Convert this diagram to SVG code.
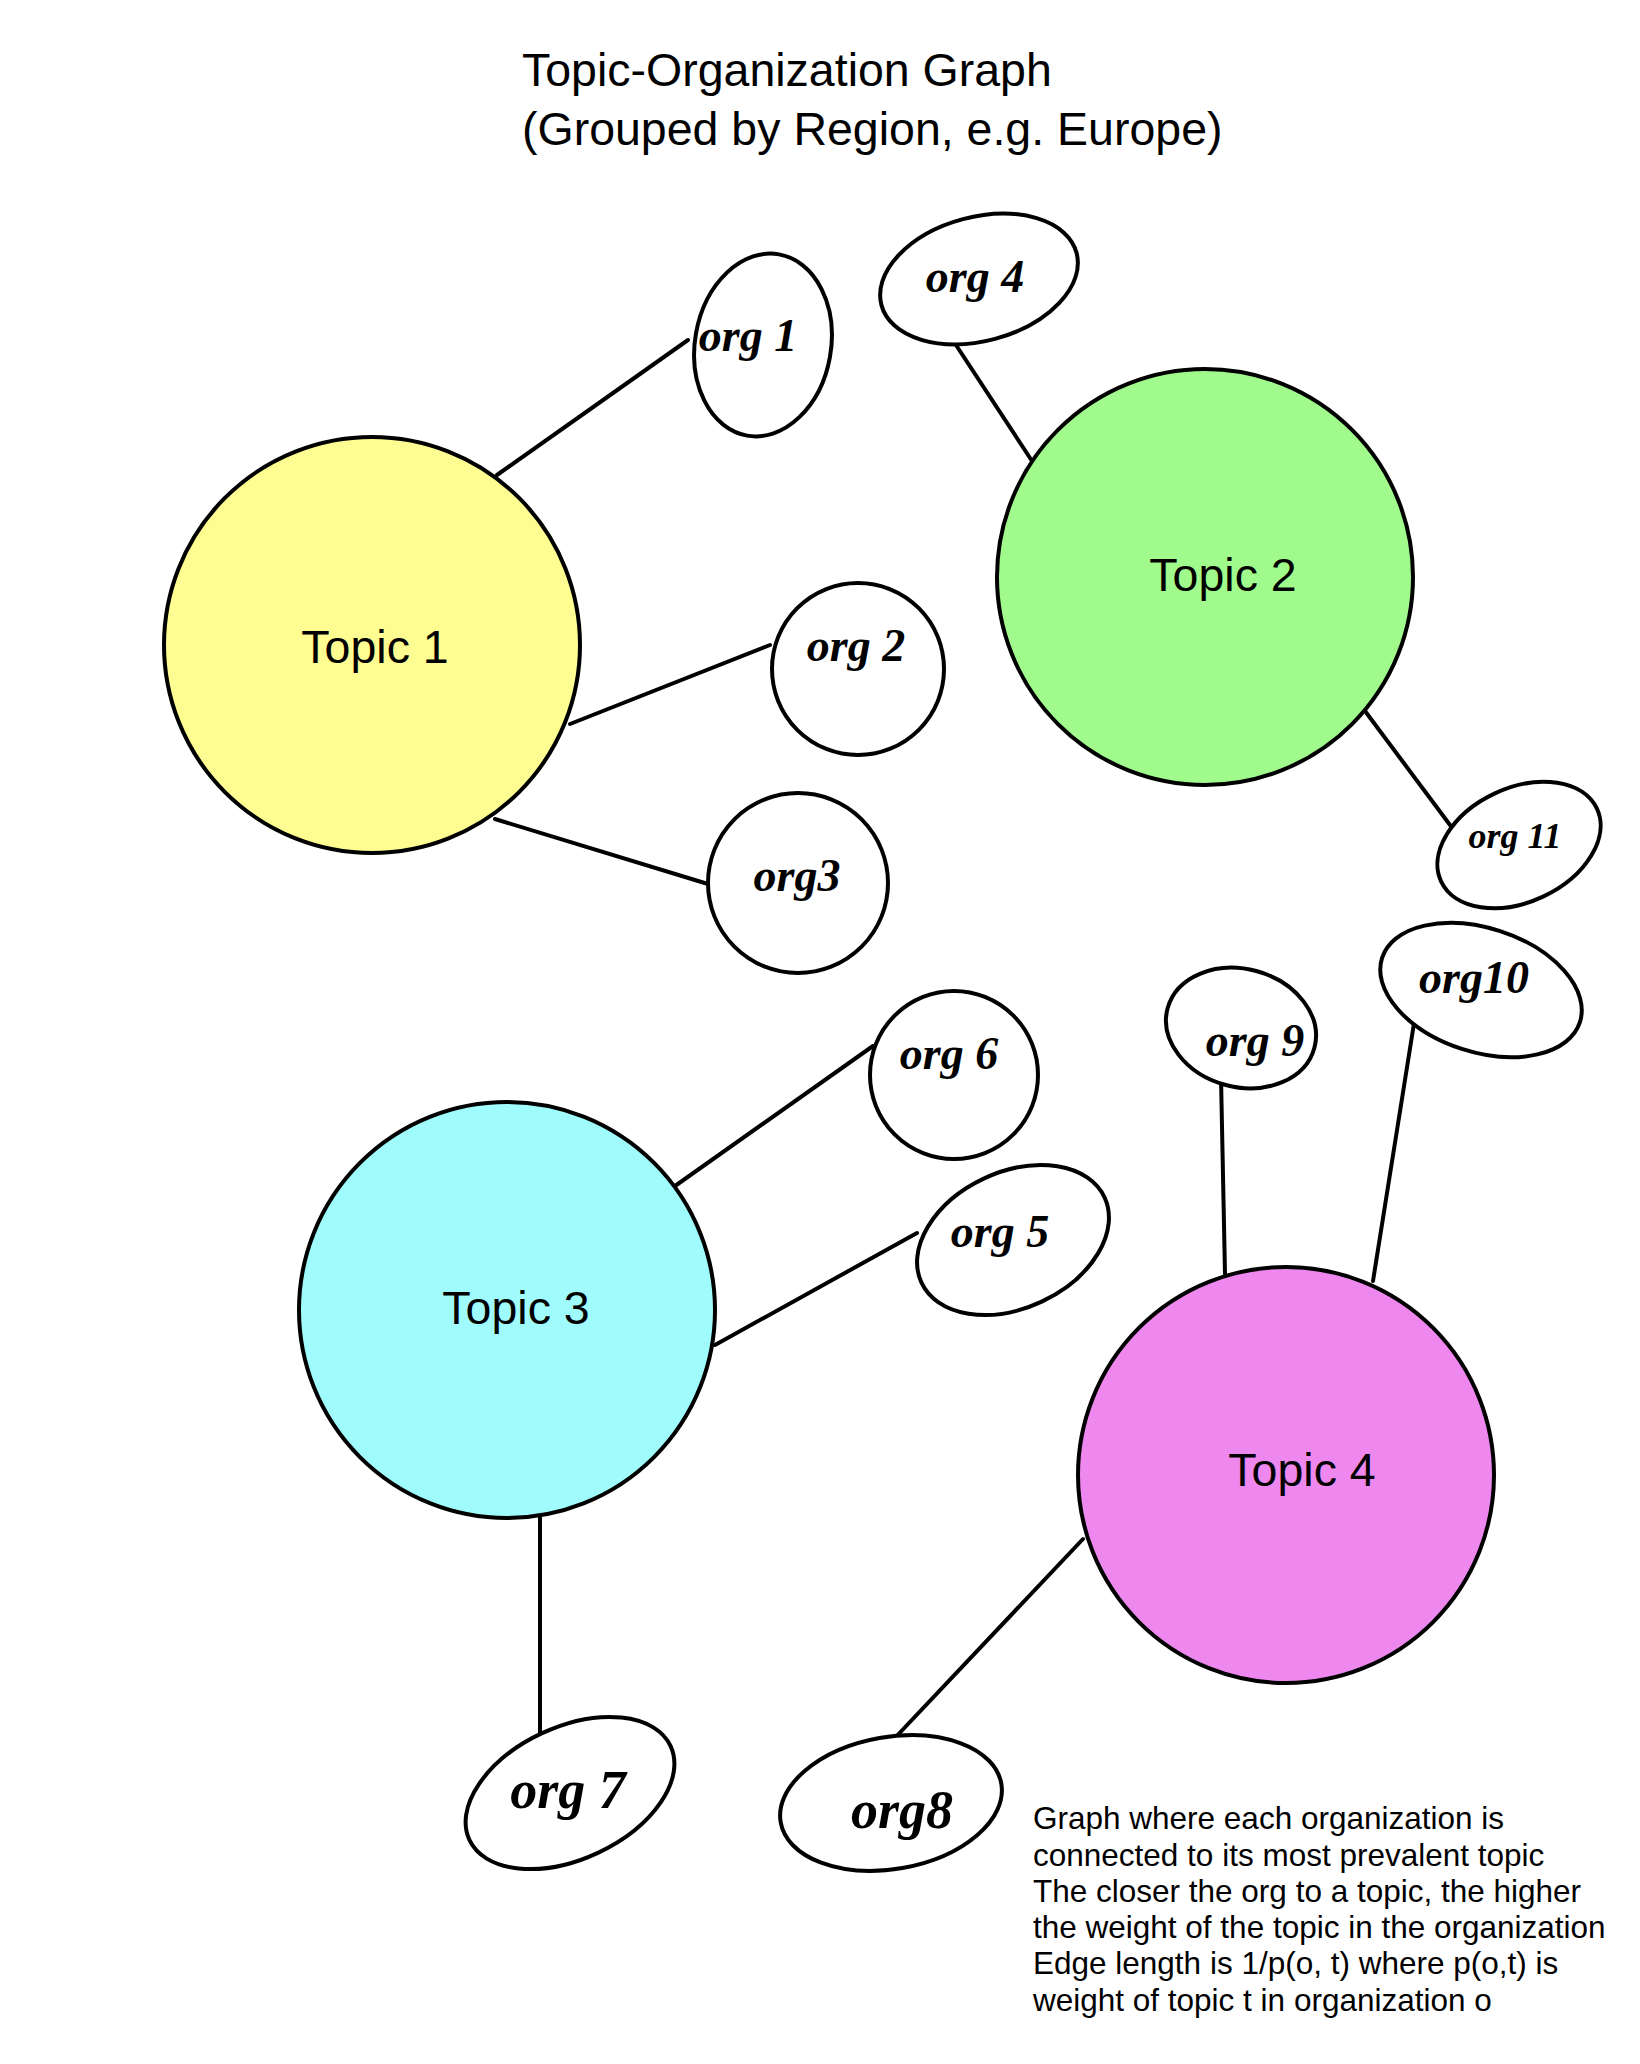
<svg xmlns="http://www.w3.org/2000/svg" width="1640" height="2064" viewBox="0 0 1640 2064">
<style>
.title{font-family:"Liberation Sans",Arial,sans-serif;font-size:46.5px;fill:#000}
.note{font-family:"Liberation Sans",Arial,sans-serif;font-size:31.5px;fill:#000}
.topic{stroke:#000;stroke-width:4}
.tlabel{font-family:"Liberation Sans",Arial,sans-serif;font-size:46.5px;fill:#000;text-anchor:middle;dominant-baseline:central}
.org{fill:#fff;stroke:#000;stroke-width:4}
.olabel{font-family:"Liberation Serif","DejaVu Serif",serif;font-style:italic;font-weight:bold;font-size:46px;fill:#000;text-anchor:middle;dominant-baseline:central}
.edge{stroke:#000;stroke-width:4;fill:none;stroke-linecap:round}
</style>
<rect width="1640" height="2064" fill="#fff"/>
<g id="title">
<text class="title" x="522" y="86">Topic-Organization Graph</text>
<text class="title" x="522" y="145">(Grouped by Region, e.g. Europe)</text>
</g>
<g id="connectors">
<line class="edge" x1="497" y1="475" x2="688" y2="340"/>
<line class="edge" x1="570" y1="724" x2="770" y2="645"/>
<line class="edge" x1="495" y1="819" x2="708" y2="884"/>
<line class="edge" x1="1032" y1="461" x2="937" y2="316"/>
<line class="edge" x1="1365" y1="711" x2="1450" y2="825"/>
<line class="edge" x1="1225" y1="1274" x2="1221" y2="1077"/>
<line class="edge" x1="1373" y1="1281" x2="1415" y2="1017"/>
<line class="edge" x1="1083" y1="1539" x2="892" y2="1741"/>
<line class="edge" x1="675" y1="1186" x2="873" y2="1046"/>
<line class="edge" x1="715" y1="1345" x2="917" y2="1233"/>
<line class="edge" x1="540" y1="1513" x2="540" y2="1737"/>
</g>
<g id="topic1">
<circle class="topic" cx="372" cy="645" r="208" fill="#FEFD91"/>
<text class="tlabel" x="375" y="647">Topic 1</text>
</g>
<g id="topic2">
<circle class="topic" cx="1205" cy="577" r="208" fill="#A0FA8C"/>
<text class="tlabel" x="1223" y="575">Topic 2</text>
</g>
<g id="topic3">
<circle class="topic" cx="507" cy="1310" r="208" fill="#A0FCFC"/>
<text class="tlabel" x="516" y="1308">Topic 3</text>
</g>
<g id="topic4">
<circle class="topic" cx="1286" cy="1475" r="208" fill="#EE88EE"/>
<text class="tlabel" x="1302" y="1470">Topic 4</text>
</g>
<g id="org1">
<ellipse class="org" cx="0" cy="0" rx="68" ry="92" transform="translate(763 345) rotate(10)"/>
<text class="olabel" x="748" y="335">org 1</text>
</g>
<g id="org4">
<ellipse class="org" cx="0" cy="0" rx="101" ry="62" transform="translate(979 279) rotate(-15)"/>
<text class="olabel" x="975" y="276">org 4</text>
</g>
<g id="org2">
<circle class="org" cx="858" cy="669" r="86"/>
<text class="olabel" x="856" y="645">org 2</text>
</g>
<g id="org3">
<circle class="org" cx="798" cy="883" r="90"/>
<text class="olabel" x="797" y="875">org3</text>
</g>
<g id="org11">
<ellipse class="org" cx="0" cy="0" rx="86" ry="57" transform="translate(1519 845) rotate(-25)"/>
<text class="olabel" x="1515" y="836" style="font-size:36px">org 11</text>
</g>
<g id="org10">
<ellipse class="org" cx="0" cy="0" rx="104" ry="62" transform="translate(1481 990) rotate(18)"/>
<text class="olabel" x="1474" y="977">org10</text>
</g>
<g id="org9">
<ellipse class="org" cx="0" cy="0" rx="76" ry="59" transform="translate(1241 1028) rotate(15)"/>
<text class="olabel" x="1255" y="1040">org 9</text>
</g>
<g id="org6">
<circle class="org" cx="954" cy="1075" r="84"/>
<text class="olabel" x="949" y="1053">org 6</text>
</g>
<g id="org5">
<ellipse class="org" cx="0" cy="0" rx="101" ry="68" transform="translate(1013 1240) rotate(-25)"/>
<text class="olabel" x="1000" y="1231">org 5</text>
</g>
<g id="org7">
<ellipse class="org" cx="0" cy="0" rx="111" ry="66" transform="translate(570 1793) rotate(-25)"/>
<text class="olabel" x="568" y="1790" style="font-size:54px">org 7</text>
</g>
<g id="org8">
<ellipse class="org" cx="0" cy="0" rx="112" ry="66" transform="translate(891 1803) rotate(-10)"/>
<text class="olabel" x="902" y="1810" style="font-size:54px">org8</text>
</g>
<g id="note">
<text class="note" x="1033" y="1829">Graph where each organization is</text>
<text class="note" x="1033" y="1866">connected to its most prevalent topic</text>
<text class="note" x="1033" y="1902">The closer the org to a topic, the higher</text>
<text class="note" x="1033" y="1938">the weight of the topic in the organization</text>
<text class="note" x="1033" y="1974">Edge length is 1/p(o, t) where p(o,t) is</text>
<text class="note" x="1033" y="2011">weight of topic t in organization o</text>
</g>
</svg>
